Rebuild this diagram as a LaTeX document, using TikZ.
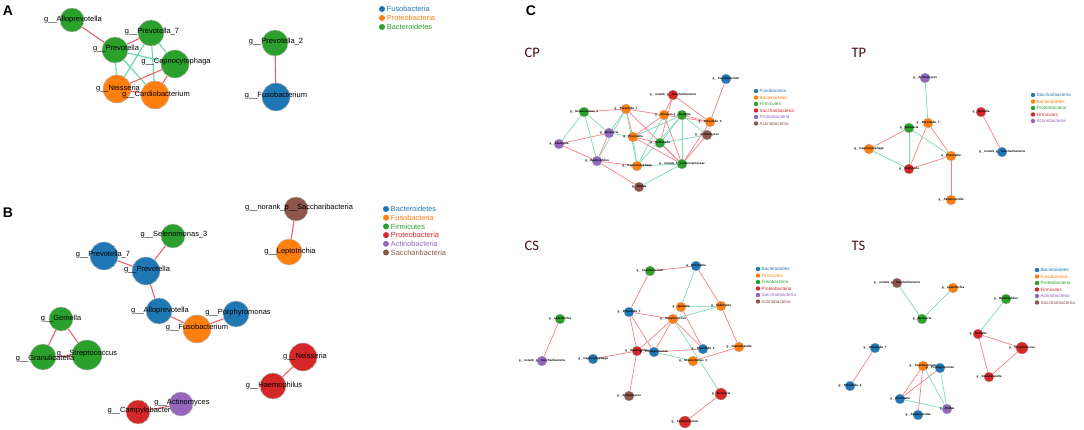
\documentclass[tikz,border=0pt]{standalone}
\usepackage{fontspec}
\setmainfont{Liberation Sans}
\newfontfamily\tagfont{Carlito}
\usetikzlibrary{positioning,backgrounds}

\definecolor{cBlue}{HTML}{1F77B4}
\definecolor{cOrange}{HTML}{FF7F0E}
\definecolor{cGreen}{HTML}{2CA02C}
\definecolor{cRed}{HTML}{D62728}
\definecolor{cPurple}{HTML}{9467BD}
\definecolor{cBrown}{HTML}{8C564B}
\definecolor{ePink}{HTML}{F2606A}
\definecolor{eTeal}{HTML}{5FD6AA}
\definecolor{tMaroon}{HTML}{4A1212}

\tikzset{
  bac/.style={circle, draw=gray!55, line width=.5pt, inner sep=0pt},
  big/.style={bac, minimum size=#1},
  big/.default=26,
  sml/.style={bac, line width=.3pt, minimum size=10},
  nm/.style={font=\fontsize{7.5}{8}\selectfont, inner sep=0pt},
  nmc/.style={font=\fontsize{3}{3}\selectfont\bfseries, inner sep=0pt},
  redge/.style={draw=ePink, line width=1.1pt},
  gedge/.style={draw=eTeal, line width=1.1pt},
  redc/.style={draw=ePink!80, line width=.7pt},
  gedc/.style={draw=eTeal!85, line width=.7pt},
  ldot/.style={circle, inner sep=0pt, minimum size=6},
  ltxt/.style={font=\fontsize{7.4}{8}\selectfont, inner sep=0pt},
  cdot/.style={circle, inner sep=0pt, minimum size=4.4},
  ctxt/.style={font=\fontsize{4.6}{5}\selectfont, inner sep=0pt},
  panel/.style={font=\fontsize{14}{14}\selectfont\bfseries},
  sub/.style={font=\fontsize{14.5}{15}\selectfont\tagfont, text=tMaroon}
}

\begin{document}
\begin{tikzpicture}[x=1pt, y=-1pt]
	\useasboundingbox (0,0) rectangle (1084,430);

	% panel A
	\node[panel] (pA) at (8,11) {A};
	\node[big=24, fill=cGreen] (aAllo) at (72,20) {};
	\node[big, fill=cGreen] (aP7) at (151,33) {};
	\node[big, fill=cGreen] (aPrev) at (115,50) {};
	\node[big=28, fill=cGreen] (aCap) at (175,64) {};
	\node[big=28, fill=cOrange] (aNei) at (117,89) {};
	\node[big=28, fill=cOrange] (aCar) at (155,95) {};
	\node[big, fill=cGreen] (aP2) at (275,43) {};
	\node[big=28, fill=cBlue] (aFus) at (276,97) {};
	\node[nm] (aAlloT) at (73,20) {g\_\_Alloprevotella};
	\node[nm] (aP7T) at (152,32) {g\_\_Prevotella\_7};
	\node[nm] (aPrevT) at (116,49) {g\_\_Prevotella};
	\node[nm] (aCapT) at (176,62) {g\_\_Capnocytophaga};
	\node[nm] (aNeiT) at (118,89) {g\_\_Neisseria};
	\node[nm] (aCarT) at (156,95) {g\_\_Cardiobacterium};
	\node[nm] (aP2T) at (276,42) {g\_\_Prevotella\_2};
	\node[nm] (aFusT) at (276,96) {g\_\_Fusobacterium};
	\begin{pgfonlayer}{background}
		\draw[redge] (aAllo) -- (aPrev);
		\draw[redge] (aPrev) -- (aP7);
		\draw[gedge] (aPrev) -- (aCap);
		\draw[gedge] (aPrev) -- (aNei);
		\draw[gedge] (aPrev) -- (aCar);
		\draw[gedge] (aP7) -- (aNei);
		\draw[gedge] (aP7) -- (aCar);
		\draw[gedge] (aP7) -- (aCap);
		\draw[redge] (aCap) -- (aNei);
		\draw[redge] (aCap) -- (aCar);
		\draw[redge] (aNei) -- (aCar);
		\draw[redge] (aP2) -- (aFus);
	\end{pgfonlayer}
	\foreach \t/\c [count=\i] in {Fusobacteria/cBlue,Proteobacteria/cOrange,Bacteroidetes/cGreen}{
		\node[ldot, fill=\c] (la\i) at (382,{9*\i}) {};
		\node[ltxt, text=\c, right=1.5pt of la\i] (lat\i) {\t};
	}

	% panel B
	\node[panel] (pB) at (8,213) {B};
	\node[big=24, fill=cBrown] (bSac) at (296,209) {};
	\node[big, fill=cOrange] (bLep) at (289,252) {};
	\node[big=24, fill=cGreen] (bSel) at (173,236) {};
	\node[big=28, fill=cBlue] (bP7) at (104,256) {};
	\node[big=28, fill=cBlue] (bPrev) at (146,271) {};
	\node[big, fill=cBlue] (bAllo) at (159,311) {};
	\node[big=28, fill=cOrange] (bFus) at (197,329) {};
	\node[big, fill=cBlue] (bPor) at (236,314) {};
	\node[big=24, fill=cGreen] (bGem) at (61,319) {};
	\node[big, fill=cGreen] (bGra) at (43,357) {};
	\node[big=30, fill=cGreen] (bStr) at (87,355) {};
	\node[big=28, fill=cRed] (bNei) at (303,357) {};
	\node[big, fill=cRed] (bHae) at (273,386) {};
	\node[big=24, fill=cRed] (bCam) at (138,412) {};
	\node[big=24, fill=cPurple] (bAct) at (181,404) {};
	\node[nm] (bSacT) at (299,208) {g\_\_norank\_p\_\_Saccharibacteria};
	\node[nm] (bLepT) at (290,252) {g\_\_Leptotrichia};
	\node[nm] (bSelT) at (174,235) {g\_\_Selenomonas\_3};
	\node[nm] (bP7T) at (103,255) {g\_\_Prevotella\_7};
	\node[nm] (bPrevT) at (147,270) {g\_\_Prevotella};
	\node[nm] (bAlloT) at (160,311) {g\_\_Alloprevotella};
	\node[nm] (bPorT) at (238,313) {g\_\_Porphyromonas};
	\node[nm] (bFusT) at (197,328) {g\_\_Fusobacterium};
	\node[nm] (bGemT) at (61,319) {g\_\_Gemella};
	\node[nm] (bGraT) at (45,359) {g\_\_Granulicatella};
	\node[nm] (bStrT) at (87,354) {g\_\_Streptococcus};
	\node[nm] (bNeiT) at (305,357) {g\_\_Neisseria};
	\node[nm] (bHaeT) at (274,386) {g\_\_Haemophilus};
	\node[nm] (bCamT) at (139,411) {g\_\_Campylobacter};
	\node[nm] (bActT) at (182,403) {g\_\_Actinomyces};
	\begin{pgfonlayer}{background}
		\draw[redge] (bSac) -- (bLep);
		\draw[redge] (bSel) -- (bPrev);
		\draw[redge] (bP7) -- (bPrev);
		\draw[redge] (bPrev) -- (bAllo);
		\draw[redge] (bAllo) -- (bFus);
		\draw[redge] (bFus) -- (bPor);
		\draw[redge] (bGem) -- (bGra);
		\draw[redge] (bGem) -- (bStr);
		\draw[redge] (bGra) -- (bStr);
		\draw[redge] (bNei) -- (bHae);
		\draw[redge] (bCam) -- (bAct);
	\end{pgfonlayer}
	\foreach \t/\c [count=\i] in {Bacteroidetes/cBlue,Fusobacteria/cOrange,Firmicutes/cGreen,Proteobacteria/cRed,Actinobacteria/cPurple,Saccharibacteria/cBrown}{
		\node[ldot, fill=\c] (lb\i) at (386,{200.3+8.7*\i}) {};
		\node[ltxt, text=\c, right=1.5pt of lb\i] (lbt\i) {\t};
	}

	% panel C
	\node[panel] (pC) at (531,11) {C};
	\node[sub, anchor=west] (tCP) at (521,53) {CP};
	\node[sub, anchor=west] (tTP) at (848,53) {TP};
	\node[sub, anchor=west] (tCS) at (521,246) {CS};
	\node[sub, anchor=west] (tTS) at (848,246) {TS};

	% CP
	\node[sml, fill=cBlue, label={[nmc]center:g\_\_Fusobacterium}] (cp1) at (726,79) {};
	\node[sml, fill=cRed, label={[nmc]center:g\_\_norank\_p\_\_Saccharibacteria}] (cp2) at (673,95) {};
	\node[sml, fill=cOrange, label={[nmc]center:g\_\_Prevotella\_7}] (cp3) at (626,109) {};
	\node[sml, fill=cGreen, label={[nmc]center:g\_\_Selenomonas\_3}] (cp4) at (584,112) {};
	\node[sml, fill=cOrange, label={[nmc]center:g\_\_Alistipes}] (cp5) at (664,115) {};
	\node[sml, fill=cGreen, label={[nmc]center:g\_\_Gemella}] (cp6) at (682,115) {};
	\node[sml, fill=cOrange, label={[nmc]center:g\_\_Prevotella\_2}] (cp7) at (710,122) {};
	\node[sml, fill=cBrown, label={[nmc]center:g\_\_Actinomyces}] (cp8) at (707,135) {};
	\node[sml, fill=cPurple, label={[nmc]center:g\_\_Neisseria}] (cp9) at (609,133) {};
	\node[sml, fill=cOrange, label={[nmc]center:g\_\_Prevotella}] (cp10) at (633,137) {};
	\node[sml, fill=cGreen, label={[nmc]center:g\_\_Veillonella}] (cp11) at (660,143) {};
	\node[sml, fill=cPurple, label={[nmc]center:g\_\_Lautropia}] (cp12) at (559,144) {};
	\node[sml, fill=cPurple, label={[nmc]center:g\_\_Haemophilus}] (cp13) at (597,161) {};
	\node[sml, fill=cOrange, label={[nmc]center:g\_\_Capnocytophaga}] (cp14) at (637,166) {};
	\node[sml, fill=cGreen, label={[nmc]center:g\_\_norank\_f\_\_Lachnospiraceae}] (cp15) at (682,164) {};
	\node[sml, fill=cBrown, label={[nmc]center:g\_\_Rothia}] (cp16) at (639,187) {};
	\begin{pgfonlayer}{background}
		\foreach \a/\b in {1/7,2/7,2/5,2/11,3/4,3/5,3/10,3/15,5/7,5/10,6/7,9/12,9/13,12/13,13/14,13/16,10/15,10/11,11/15,5/15,8/15,7/15}
			\draw[redc] (cp\a) -- (cp\b);
		\foreach \a/\b in {4/12,4/9,4/13,3/9,3/13,3/14,10/14,9/10,14/15,16/15,6/11,6/14,6/15,5/14,8/11,8/6,6/10}
			\draw[gedc] (cp\a) -- (cp\b);
	\end{pgfonlayer}
	\foreach \t/\c [count=\i] in {Fusobacteria/cBlue,Bacteroidetes/cOrange,Firmicutes/cGreen,Saccharibacteria/cRed,Proteobacteria/cPurple,Actinobacteria/cBrown}{
		\node[cdot, fill=\c] (lc\i) at (756,{84.5+6.5*\i}) {};
		\node[ctxt, text=\c, right=1pt of lc\i] (lct\i) {\t};
	}

	% TP
	\node[sml, fill=cPurple, label={[nmc]center:g\_\_Actinomyces}] (tp1) at (925,78) {};
	\node[sml, fill=cOrange, label={[nmc]center:g\_\_Prevotella\_7}] (tp2) at (928,123) {};
	\node[sml, fill=cGreen, label={[nmc]center:g\_\_Neisseria}] (tp3) at (909,128) {};
	\node[sml, fill=cOrange, label={[nmc]center:g\_\_Capnocytophaga}] (tp4) at (869,149) {};
	\node[sml, fill=cOrange, label={[nmc]center:g\_\_Prevotella}] (tp5) at (951,156) {};
	\node[sml, fill=cRed, label={[nmc]center:g\_\_Veillonella}] (tp6) at (909,169) {};
	\node[sml, fill=cOrange, label={[nmc]center:g\_\_Alloprevotella}] (tp7) at (951,200) {};
	\node[sml, fill=cRed, label={[nmc]center:g\_\_Gemella}] (tp8) at (981,112) {};
	\node[sml, fill=cBlue, label={[nmc]center:g\_\_norank\_p\_\_Saccharibacteria}] (tp9) at (1002,152) {};
	\begin{pgfonlayer}{background}
		\foreach \a/\b in {2/6,2/5,3/4,6/5,5/7,8/9}
			\draw[redc] (tp\a) -- (tp\b);
		\foreach \a/\b in {1/2,3/6,3/5,4/6}
			\draw[gedc] (tp\a) -- (tp\b);
	\end{pgfonlayer}
	\foreach \t/\c [count=\i] in {Saccharibacteria/cBlue,Bacteroidetes/cOrange,Proteobacteria/cGreen,Firmicutes/cRed,Actinobacteria/cPurple}{
		\node[cdot, fill=\c] (ld\i) at (1033,{88.5+6.5*\i}) {};
		\node[ctxt, text=\c, right=1pt of ld\i] (ldt\i) {\t};
	}

	% CS
	\node[sml, fill=cGreen, label={[nmc]center:g\_\_Fusobacterium}] (cs1) at (650,271) {};
	\node[sml, fill=cBlue, label={[nmc]center:g\_\_Prevotella}] (cs2) at (696,266) {};
	\node[sml, fill=cOrange, label={[nmc]center:g\_\_Gemella}] (cs3) at (681,307) {};
	\node[sml, fill=cOrange, label={[nmc]center:g\_\_Veillonella}] (cs4) at (721,306) {};
	\node[sml, fill=cBlue, label={[nmc]center:g\_\_Prevotella\_7}] (cs5) at (629,312) {};
	\node[sml, fill=cOrange, label={[nmc]center:g\_\_Streptococcus}] (cs6) at (673,319) {};
	\node[sml, fill=cGreen, label={[nmc]center:g\_\_Leptotrichia}] (cs7) at (560,319) {};
	\node[sml, fill=cRed, label={[nmc]center:g\_\_Haemophilus}] (cs8) at (637,351) {};
	\node[sml, fill=cBlue, label={[nmc]center:g\_\_Porphyromonas}] (cs9) at (654,352) {};
	\node[sml, fill=cBlue, label={[nmc]center:g\_\_Prevotella\_2}] (cs10) at (703,349) {};
	\node[sml, fill=cOrange, label={[nmc]center:g\_\_Granulicatella}] (cs11) at (739,347) {};
	\node[sml, fill=cOrange, label={[nmc]center:g\_\_Selenomonas\_3}] (cs12) at (693,361) {};
	\node[sml, fill=cPurple, label={[nmc]center:g\_\_norank\_p\_\_Saccharibacteria}] (cs13) at (542,361) {};
	\node[sml, fill=cBlue, label={[nmc]center:g\_\_Capnocytophaga}] (cs14) at (593,359) {};
	\node[sml, fill=cBrown, label={[nmc]center:g\_\_Actinomyces}] (cs15) at (629,396) {};
	\node[sml, minimum size=12, fill=cRed, label={[nmc]center:g\_\_Neisseria}] (cs16) at (721,394) {};
	\node[sml, minimum size=12, fill=cRed, label={[nmc]center:g\_\_Campylobacter}] (cs17) at (685,422) {};
	\begin{pgfonlayer}{background}
		\foreach \a/\b in {1/2,1/5,2/4,5/6,5/8,5/9,6/8,6/9,6/10,3/10,4/11,11/12,8/14,8/15,9/10,16/17,7/13}
			\draw[redc] (cs\a) -- (cs\b);
		\foreach \a/\b in {2/3,3/4,6/4,6/16,9/12}
			\draw[gedc] (cs\a) -- (cs\b);
	\end{pgfonlayer}
	\foreach \t/\c [count=\i] in {Bacteroidetes/cBlue,Firmicutes/cOrange,Fusobacteria/cGreen,Proteobacteria/cRed,Saccharibacteria/cPurple,Actinobacteria/cBrown}{
		\node[cdot, fill=\c] (le\i) at (758,{262.5+6.5*\i}) {};
		\node[ctxt, text=\c, right=1pt of le\i] (let\i) {\t};
	}

	% TS
	\node[sml, fill=cBrown, label={[nmc]center:g\_\_norank\_p\_\_Saccharibacteria}] (ts1) at (897,283) {};
	\node[sml, fill=cOrange, label={[nmc]center:g\_\_Leptotrichia}] (ts2) at (953,288) {};
	\node[sml, fill=cGreen, label={[nmc]center:g\_\_Neisseria}] (ts3) at (922,319) {};
	\node[sml, fill=cGreen, label={[nmc]center:g\_\_Haemophilus}] (ts4) at (1006,299) {};
	\node[sml, fill=cRed, label={[nmc]center:g\_\_Gemella}] (ts5) at (978,334) {};
	\node[sml, minimum size=12, fill=cRed, label={[nmc]center:g\_\_Streptococcus}] (ts6) at (1022,348) {};
	\node[sml, fill=cRed, label={[nmc]center:g\_\_Granulicatella}] (ts7) at (989,377) {};
	\node[sml, fill=cBlue, label={[nmc]center:g\_\_Prevotella\_7}] (ts8) at (875,348) {};
	\node[sml, fill=cBlue, label={[nmc]center:g\_\_Prevotella\_2}] (ts9) at (850,386) {};
	\node[sml, fill=cOrange, label={[nmc]center:g\_\_Fusobacterium}] (ts10) at (923,366) {};
	\node[sml, fill=cBlue, label={[nmc]center:g\_\_Porphyromonas}] (ts11) at (940,368) {};
	\node[sml, fill=cBlue, label={[nmc]center:g\_\_Prevotella}] (ts12) at (900,399) {};
	\node[sml, fill=cPurple, label={[nmc]center:g\_\_Rothia}] (ts13) at (947,409) {};
	\node[sml, fill=cBlue, label={[nmc]center:g\_\_Alloprevotella}] (ts14) at (918,415) {};
	\begin{pgfonlayer}{background}
		\foreach \a/\b in {5/6,5/7,6/7,8/9,10/12,10/14,11/12}
			\draw[redc] (ts\a) -- (ts\b);
		\foreach \a/\b in {1/3,2/3,4/5,10/13,11/13,12/13}
			\draw[gedc] (ts\a) -- (ts\b);
	\end{pgfonlayer}
	\foreach \t/\c [count=\i] in {Bacteroidetes/cBlue,Fusobacteria/cOrange,Proteobacteria/cGreen,Firmicutes/cRed,Actinobacteria/cPurple,Saccharibacteria/cBrown}{
		\node[cdot, fill=\c] (lf\i) at (1037,{263.5+6.5*\i}) {};
		\node[ctxt, text=\c, right=1pt of lf\i] (lft\i) {\t};
	}
\end{tikzpicture}
\end{document}
